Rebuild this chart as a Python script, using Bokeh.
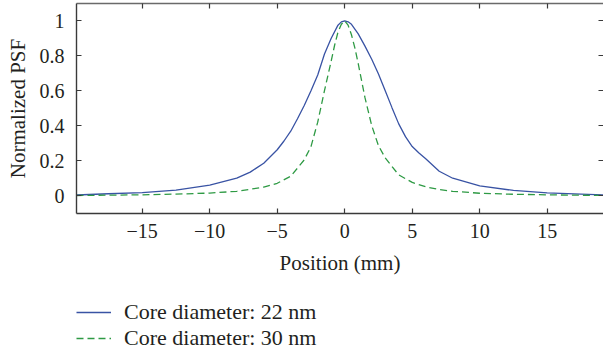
from bokeh.plotting import figure
from bokeh.layouts import column
from bokeh.models import (Range1d, LinearAxis, FixedTicker, CustomJSTickFormatter,
                          Legend, LegendItem)
from bokeh.embed import file_html
from bokeh.resources import INLINE

# ---- data ----
x_22 = [-19.87, -17.5, -15, -12.5, -10, -8, -7, -6, -5, -4.5, -4, -3.5, -3, -2.5, -2,
        -1.5, -1, -0.5, -0.25, 0, 0.25, 0.5, 1, 1.5, 2, 2.5, 3, 3.5, 4, 4.5, 5, 5.5,
        6, 7, 8, 10, 12.5, 15, 17.5, 19.2]
psf_22 = [0.003, 0.010, 0.017, 0.031, 0.060, 0.099, 0.134, 0.185, 0.262, 0.312, 0.368,
          0.439, 0.515, 0.60, 0.69, 0.81, 0.90, 0.975, 0.994, 1.0, 0.994, 0.98, 0.925,
          0.855, 0.78, 0.696, 0.60, 0.503, 0.41, 0.337, 0.28, 0.243, 0.21, 0.139,
          0.099, 0.055, 0.029, 0.015, 0.008, 0.003]

x_30 = [-19.87, -15, -12, -10, -8, -6, -5, -4, -3, -2.5, -2, -1.5, -1, -0.75, -0.5,
        -0.25, 0, 0.25, 0.5, 0.75, 1, 1.5, 2, 2.5, 3, 4, 5, 6, 7, 8, 10, 12.5, 15,
        19.2]
psf_30 = [0.0, 0.004, 0.009, 0.014, 0.024, 0.048, 0.07, 0.11, 0.204, 0.28, 0.42,
          0.60, 0.77, 0.86, 0.935, 0.98, 1.0, 0.975, 0.92, 0.845, 0.755, 0.56, 0.40,
          0.285, 0.215, 0.118, 0.075, 0.05, 0.034, 0.024, 0.013, 0.007, 0.004, 0.0]

x_ticks = [-15, -10, -5, 0, 5, 10, 15]
y_ticks = [0, 0.2, 0.4, 0.6, 0.8, 1]
labels = ["Core diameter: 22 nm", "Core diameter: 30 nm"]

FONT = "Liberation Serif"
TXT = "#231f20"
AX = "#3a3a3a"
BLUE = "#3953a4"
GREEN = "#2e9a44"
DASH = "7 4"

H1 = 290
p = figure(width=603, height=H1, output_backend="svg", toolbar_location=None,
           x_range=Range1d(-19.87, 19.17), y_range=Range1d(-0.103, 1.099),
           x_axis_location=None, y_axis_location=None,
           min_border_left=76, min_border_right=0, min_border_top=3,
           min_border_bottom=H1 - 213)
p.outline_line_color = None
p.xgrid.visible = False
p.ygrid.visible = False

xfmt = CustomJSTickFormatter(code="return (tick < 0 ? '\\u2212' : '') + Math.abs(tick);")
yfmt = CustomJSTickFormatter(code="return String(Math.round(tick * 10) / 10);")
blank = CustomJSTickFormatter(code="return '';")

xb = LinearAxis(ticker=FixedTicker(ticks=x_ticks), formatter=xfmt,
                axis_label="Position (mm)")
yl = LinearAxis(ticker=FixedTicker(ticks=y_ticks), formatter=yfmt,
                axis_label="Normalized PSF")
for ax in (xb, yl):
    ax.major_tick_in = 5
    ax.major_tick_out = 0
    ax.minor_tick_line_color = None
    ax.axis_line_color = AX
    ax.axis_line_width = 1.4
    ax.major_tick_line_color = AX
    ax.major_tick_line_width = 1.2
    ax.major_label_text_font = FONT
    ax.major_label_text_font_size = "20px"
    ax.major_label_text_color = TXT
    ax.axis_label_text_font = FONT
    ax.axis_label_text_font_size = "21px"
    ax.axis_label_text_font_style = "normal"
    ax.axis_label_text_color = TXT
xb.major_label_standoff = 10
xb.axis_label_standoff = 10
yl.major_label_standoff = 12
yl.axis_label_standoff = 7
p.add_layout(xb, "below")
p.add_layout(yl, "left")

xt = LinearAxis(ticker=FixedTicker(ticks=x_ticks), formatter=blank)
yr = LinearAxis(ticker=FixedTicker(ticks=y_ticks), formatter=blank)
for ax in (xt, yr):
    ax.major_tick_in = 5
    ax.major_tick_out = 0
    ax.minor_tick_line_color = None
    ax.major_label_standoff = 0
    ax.major_label_text_font_size = "0px"
    ax.major_tick_line_color = AX
    ax.major_tick_line_width = 1.2
xt.axis_line_color = "#6a6a6a"
xt.axis_line_width = 1.4
yr.axis_line_color = None
p.add_layout(xt, "above")
p.add_layout(yr, "right")

p.line(x_22, psf_22, line_color=BLUE, line_width=1.3)
p.line(x_30, psf_30, line_color=GREEN, line_width=1.3, line_dash=DASH)

# ---- legend strip below the plot ----
H2 = 356 - H1
q = figure(width=603, height=H2, output_backend="svg", toolbar_location=None,
           x_range=Range1d(-19.87, 19.17), y_range=Range1d(5, 6),
           x_axis_location=None, y_axis_location=None,
           min_border=0)
q.outline_line_color = None
q.xgrid.visible = False
q.ygrid.visible = False
l1 = q.line(x_22, psf_22, line_color=BLUE, line_width=1.3)
l2 = q.line(x_30, psf_30, line_color=GREEN, line_width=1.3, line_dash=DASH)

legend = Legend(items=[LegendItem(label=labels[0], renderers=[l1]),
                       LegendItem(label=labels[1], renderers=[l2])],
                location=(0, 5), orientation="vertical")
legend.glyph_width = 35
legend.glyph_height = 20
legend.label_height = 20
legend.label_standoff = 13
legend.spacing = 0
legend.padding = 0
legend.margin = 0
legend.border_line_color = None
legend.background_fill_alpha = 0
legend.label_text_font = FONT
legend.label_text_font_size = "22px"
legend.label_text_color = TXT
q.add_layout(legend, "center")

open("out.html", "w").write(file_html(column(p, q, spacing=0), INLINE))
